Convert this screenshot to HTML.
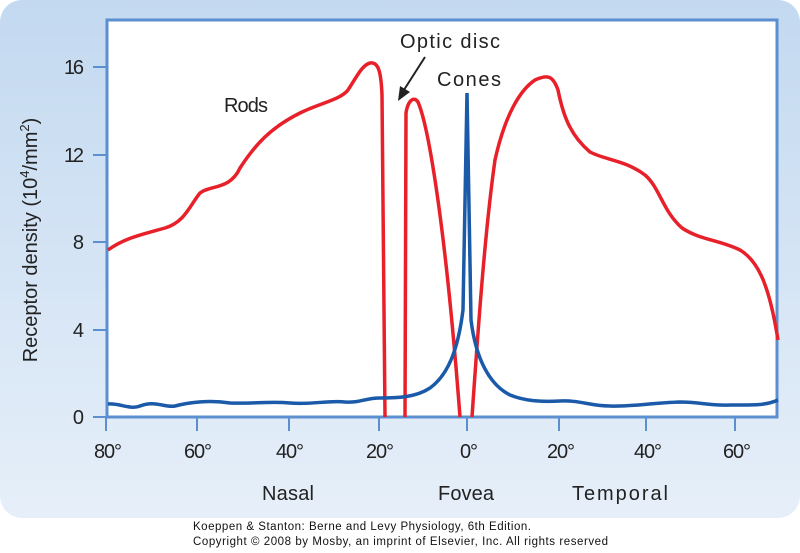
<!DOCTYPE html>
<html><head><style>
body{margin:0;width:800px;height:548px;background:#fff;font-family:"Liberation Sans",sans-serif;overflow:hidden}
</style></head><body>
<svg width="800" height="548" viewBox="0 0 800 548" xmlns="http://www.w3.org/2000/svg">
<defs><linearGradient id="g" x1="0" y1="0" x2="0" y2="1"><stop offset="0" stop-color="#c3d9f0"/><stop offset="1" stop-color="#e6eff9"/></linearGradient></defs>
<rect x="0" y="0" width="800" height="518" rx="22" fill="url(#g)"/>
<rect x="107" y="20" width="670" height="397" fill="#fff" stroke="#5b8fd0" stroke-width="3"/>
<g stroke="#5b8fd0" stroke-width="2">
<line x1="93" y1="67" x2="107" y2="67"/><line x1="93" y1="155" x2="107" y2="155"/><line x1="93" y1="242" x2="107" y2="242"/><line x1="93" y1="330" x2="107" y2="330"/><line x1="93" y1="417" x2="107" y2="417"/>
<line x1="106" y1="417" x2="106" y2="431"/><line x1="197" y1="417" x2="197" y2="431"/><line x1="289" y1="417" x2="289" y2="431"/><line x1="379" y1="417" x2="379" y2="431"/><line x1="467" y1="417" x2="467" y2="431"/><line x1="559" y1="417" x2="559" y2="431"/><line x1="646" y1="417" x2="646" y2="431"/><line x1="735" y1="417" x2="735" y2="431"/>
</g>
<g font-size="20" fill="#222" text-anchor="end">
<text x="84" y="74" textLength="20">16</text><text x="84" y="162" textLength="20">12</text><text x="84" y="249">8</text><text x="84" y="337">4</text><text x="84" y="424">0</text>
</g>
<g font-size="20" fill="#222" text-anchor="middle">
<text x="108" y="458" textLength="28">80°</text><text x="198" y="458" textLength="28">60°</text><text x="290" y="458" textLength="28">40°</text><text x="380" y="458" textLength="28">20°</text><text x="469" y="458" textLength="18">0°</text><text x="561" y="458" textLength="28">20°</text><text x="648" y="458" textLength="28">40°</text><text x="737" y="458" textLength="28">60°</text>
<text x="288" y="500" textLength="52">Nasal</text><text x="466" y="500" textLength="56">Fovea</text><text x="620" y="500" textLength="96">Temporal</text>
</g>
<text transform="translate(37,240) rotate(-90)" font-size="20" fill="#222" text-anchor="middle">Receptor density (10<tspan font-size="13" dy="-8">4</tspan><tspan dy="8">/mm</tspan><tspan font-size="13" dy="-8">2</tspan><tspan dy="8">)</tspan></text>
<text x="224" y="112" font-size="20" fill="#222" textLength="44">Rods</text>
<text x="400" y="48" font-size="20" fill="#222" textLength="100">Optic disc</text>
<text x="437" y="86" font-size="20" fill="#222" textLength="64">Cones</text>
<line x1="425" y1="57" x2="402" y2="93" stroke="#222" stroke-width="2"/>
<polygon points="398,101 400,86 410,92" fill="#222"/>
<path d="M108,250 C125,238 140,235 165,228 C185,222 190,205 200,193 C210,185 230,190 240,168 C255,145 270,128 300,113 C320,103 340,100 348,90 C356,78 362,65 370,63 C378,62 381,70 382,95 L385,417" fill="none" stroke="#e8202a" stroke-width="3.5"/>
<path d="M405,417 L406,113 C408,100 414,96 418,102 C428,125 445,220 460,417" fill="none" stroke="#e8202a" stroke-width="3.5"/>
<path d="M472,417 C478,330 485,230 495,160 C505,115 520,90 535,80 C548,74 553,76 558,90 C563,115 570,135 590,152 C605,160 625,160 645,175 C660,188 662,210 682,228 C700,240 720,240 740,250 C760,262 770,290 778,340" fill="none" stroke="#e8202a" stroke-width="3.5"/>
<path d="M108,404 C120,403 130,410 140,406 C155,400 165,408 175,406 C190,402 210,400 230,403 C250,404 270,401 290,403 C310,405 330,400 345,402 C360,403 365,398 380,398 C395,398 415,398 430,388 C448,375 458,350 463,310 L467,93 L471,320 C476,360 490,385 510,395 C525,401 540,402 560,401 C580,400 590,406 610,406 C630,407 650,403 680,402 C700,402 710,406 730,405 C750,405 765,406 778,400" fill="none" stroke="#1a5aa8" stroke-width="3.5"/>
<g font-size="11.5" fill="#111"><text x="193" y="530" textLength="338">Koeppen &amp; Stanton: Berne and Levy Physiology, 6th Edition.</text><text x="193" y="545" textLength="415">Copyright © 2008 by Mosby, an imprint of Elsevier, Inc. All rights reserved</text></g>
</svg>
</body></html>
